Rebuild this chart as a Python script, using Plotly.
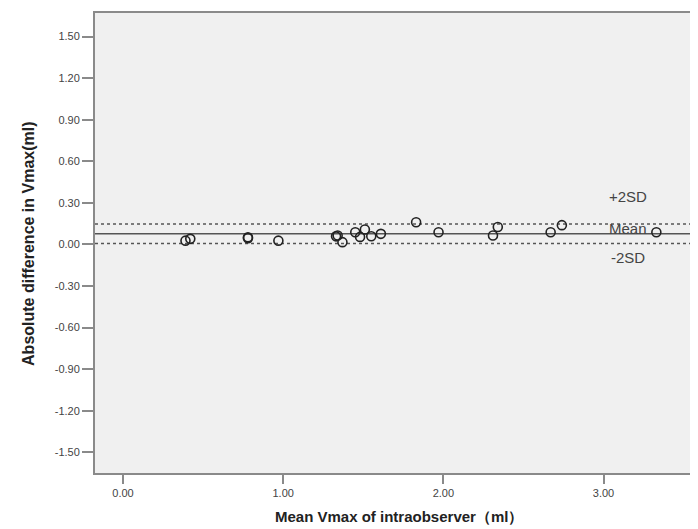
import plotly.graph_objects as go

# Data (Bland-Altman style plot)
mean_vmax = [0.39, 0.42, 0.78, 0.78, 0.97, 1.34, 1.33, 1.37, 1.45, 1.48, 1.51, 1.55, 1.61,
             1.83, 1.97, 2.31, 2.34, 2.67, 2.74, 3.33]
abs_diff = [0.027, 0.040, 0.052, 0.045, 0.027, 0.064, 0.058, 0.016, 0.088, 0.054, 0.107, 0.059, 0.076,
            0.160, 0.088, 0.064, 0.126, 0.088, 0.139, 0.088]

mean_line = 0.076
upper_line = 0.148
lower_line = 0.006

x_tickvals = [0, 1, 2, 3]
x_ticktext = ["0.00", "1.00", "2.00", "3.00"]
y_tickvals = [1.5, 1.2, 0.9, 0.6, 0.3, 0.0, -0.3, -0.6, -0.9, -1.2, -1.5]
y_ticktext = ["1.50", "1.20", "0.90", "0.60", "0.30", "0.00", "-0.30", "-0.60", "-0.90", "-1.20", "-1.50"]

line_labels = ["+2SD", "Mean", "-2SD"]
line_label_y = [0.343, 0.114, -0.097]
line_label_x = 3.156

FONT = "Arial, Liberation Sans, sans-serif"
AXC = "#8a8a8a"

fig = go.Figure()

fig.add_trace(go.Scatter(
    x=mean_vmax, y=abs_diff, mode="markers",
    marker=dict(symbol="circle-open", size=9, color="#222222", line=dict(width=1.6, color="#222222")),
    showlegend=False, hoverinfo="x+y"))

for yv, dash in [(upper_line, "3px,3px"), (mean_line, "solid"), (lower_line, "3px,3px")]:
    fig.add_shape(type="line", xref="paper", x0=0, x1=1, yref="y", y0=yv, y1=yv,
                  line=dict(color="#555555", width=1.5, dash=dash), layer="below")

for lab, ly in zip(line_labels, line_label_y):
    fig.add_annotation(x=line_label_x, y=ly, text=lab, showarrow=False,
                       xanchor="center", yanchor="middle",
                       font=dict(family=FONT, size=15, color="#444444"))

fig.add_annotation(xref="paper", yref="paper", x=-0.108, y=0.498, text="<b>Absolute difference in Vmax(ml)</b>",
                   textangle=-90, showarrow=False, xanchor="center", yanchor="middle",
                   font=dict(family=FONT, size=16, color="#222222"))
fig.add_annotation(xref="paper", yref="paper", x=0.4975, y=-0.095, text="<b>Mean Vmax of intraobserver（ml）</b>",
                   showarrow=False, xanchor="center", yanchor="middle",
                   font=dict(family=FONT, size=15, color="#222222"))

fig.update_layout(
    width=698, height=529,
    margin=dict(l=87, r=0, t=5, b=64),
    paper_bgcolor="white", plot_bgcolor="#f0f0f0",
    font=dict(family=FONT, size=11, color="#444444"),
    xaxis=dict(range=[-0.175, 3.64], tickvals=x_tickvals, ticktext=x_ticktext,
               showgrid=False, zeroline=False, showline=True, linecolor=AXC, linewidth=2, mirror=True,
               ticks="outside", ticklen=9, tickwidth=2, tickcolor=AXC,
               tickfont=dict(family=FONT, size=11, color="#444444")),
    yaxis=dict(range=[-1.65, 1.67], tickvals=y_tickvals, ticktext=y_ticktext,
               showgrid=False, zeroline=False, showline=True, linecolor=AXC, linewidth=2,
               ticks="outside", ticklen=11, tickwidth=2, tickcolor=AXC,
               tickfont=dict(family=FONT, size=11, color="#444444")),
)

fig.write_html("out.html")
